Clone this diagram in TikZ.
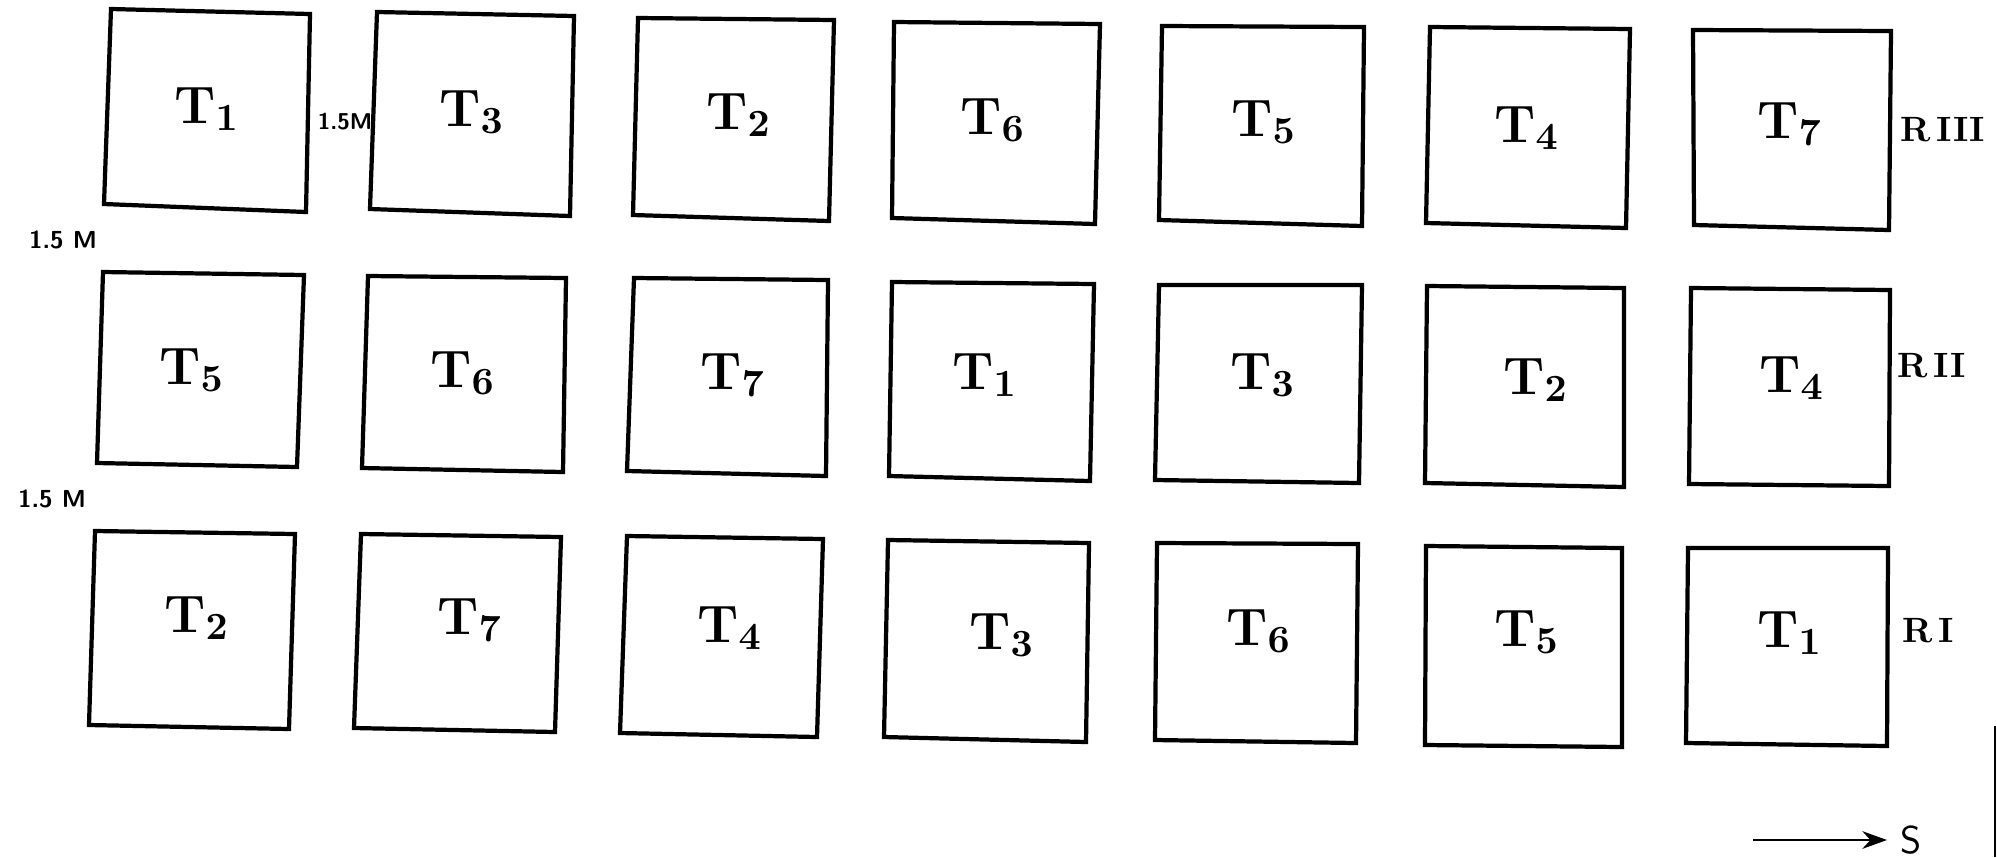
\documentclass[tikz,border=0pt]{standalone}
\usetikzlibrary{arrows.meta}
\begin{document}
\begin{tikzpicture}[x=0.01cm,y=-0.01cm,
  plotbox/.style={draw=black,line width=1.2pt,line join=miter},
  tlab/.style={inner sep=0pt,font=\bfseries\fontsize{15}{18}\selectfont},
  dist/.style={inner sep=0pt,font=\sffamily\bfseries\fontsize{7}{8}\selectfont},
  rep/.style={inner sep=0pt,anchor=west,font=\bfseries\fontsize{10}{12}\selectfont},
  thinline/.style={draw=black,line width=0.7pt}]
\useasboundingbox (0,0) rectangle (1997,857);
% Row III
\draw[plotbox] (111,9) -- (310,14) -- (306,212) -- (104,204) -- cycle;
\draw[plotbox] (377,12) -- (574,16) -- (570,216) -- (370,209) -- cycle;
\draw[plotbox] (638,18) -- (834,20) -- (829,221) -- (633,215) -- cycle;
\draw[plotbox] (894,22) -- (1100,24) -- (1095,224) -- (892,218) -- cycle;
\draw[plotbox] (1162,26) -- (1364,27) -- (1362,226) -- (1159,220) -- cycle;
\draw[plotbox] (1430,27) -- (1630,29) -- (1626,228) -- (1426,223) -- cycle;
\draw[plotbox] (1693,30) -- (1891,31) -- (1889,230) -- (1694,225) -- cycle;
% Row II
\draw[plotbox] (103,272) -- (304,275) -- (297,467) -- (97,463) -- cycle;
\draw[plotbox] (368,276) -- (566,278) -- (563,472) -- (362,468) -- cycle;
\draw[plotbox] (634,278) -- (828,280) -- (826,476) -- (627,471) -- cycle;
\draw[plotbox] (892,282) -- (1094,284) -- (1090,481) -- (889,476) -- cycle;
\draw[plotbox] (1159,285) -- (1362,285) -- (1359,483) -- (1155,480) -- cycle;
\draw[plotbox] (1427,286) -- (1624,288) -- (1624,487) -- (1425,483) -- cycle;
\draw[plotbox] (1691,288) -- (1890,290) -- (1889,486) -- (1689,484) -- cycle;
% Row I
\draw[plotbox] (95,531) -- (295,534) -- (289,729) -- (89,725) -- cycle;
\draw[plotbox] (361,534) -- (561,537) -- (555,732) -- (354,728) -- cycle;
\draw[plotbox] (627,536) -- (823,539) -- (817,737) -- (620,733) -- cycle;
\draw[plotbox] (888,540) -- (1089,543) -- (1086,742) -- (884,737) -- cycle;
\draw[plotbox] (1157,543) -- (1358,544) -- (1356,743) -- (1155,740) -- cycle;
\draw[plotbox] (1426,546) -- (1622,548) -- (1622,747) -- (1425,745) -- cycle;
\draw[plotbox] (1688,548) -- (1888,548) -- (1887,746) -- (1686,743) -- cycle;
% Treatment labels
\node[tlab] (a1) at (207,109) {T$_\mathbf{1}$};
\node[tlab] (a2) at (472,112) {T$_\mathbf{3}$};
\node[tlab] (a3) at (739,115) {T$_\mathbf{2}$};
\node[tlab] (a4) at (993,120) {T$_\mathbf{6}$};
\node[tlab] (a5) at (1264,122) {T$_\mathbf{5}$};
\node[tlab] (a6) at (1527,128) {T$_\mathbf{4}$};
\node[tlab] (a7) at (1790,124) {T$_\mathbf{7}$};
\node[tlab] (b1) at (192,370) {T$_\mathbf{5}$};
\node[tlab] (b2) at (463,373) {T$_\mathbf{6}$};
\node[tlab] (b3) at (733,375) {T$_\mathbf{7}$};
\node[tlab] (b4) at (985,375) {T$_\mathbf{1}$};
\node[tlab] (b5) at (1263,375) {T$_\mathbf{3}$};
\node[tlab] (b6) at (1536,380) {T$_\mathbf{2}$};
\node[tlab] (b7) at (1792,378) {T$_\mathbf{4}$};
\node[tlab] (c1) at (197,618) {T$_\mathbf{2}$};
\node[tlab] (c2) at (470,620) {T$_\mathbf{7}$};
\node[tlab] (c3) at (730,628) {T$_\mathbf{4}$};
\node[tlab] (c4) at (1002,635) {T$_\mathbf{3}$};
\node[tlab] (c5) at (1259,631) {T$_\mathbf{6}$};
\node[tlab] (c6) at (1527,632) {T$_\mathbf{5}$};
\node[tlab] (c7) at (1790,633) {T$_\mathbf{1}$};
% Replication labels
\node[rep] (r3) at (1900,130) {R\,III};
\node[rep] (r2) at (1897,366) {R\,II};
\node[rep] (r1) at (1902,631) {R\,I};
% Distance labels
\node[dist,font=\sffamily\bfseries\fontsize{6.5}{8}\selectfont] (d0) at (345,122) {1.5M};
\node[dist] (d1) at (63,240) {1.5 M};
\node[dist] (d2) at (52,499) {1.5 M};
% Direction arrow
\coordinate (s0) at (1753,840);
\coordinate (s1) at (1887,840);
\node[inner sep=0pt,font=\sffamily\fontsize{11}{13}\selectfont] (S) at (1911,840) {S};
\draw[thinline,-{Stealth[length=7pt,width=5pt]}] (s0) -- (s1);
% Right edge line
\coordinate (e0) at (1995,726);
\coordinate (e1) at (1995,857);
\draw[thinline,line width=0.5pt] (e0) -- (e1);
\end{tikzpicture}
\end{document}
